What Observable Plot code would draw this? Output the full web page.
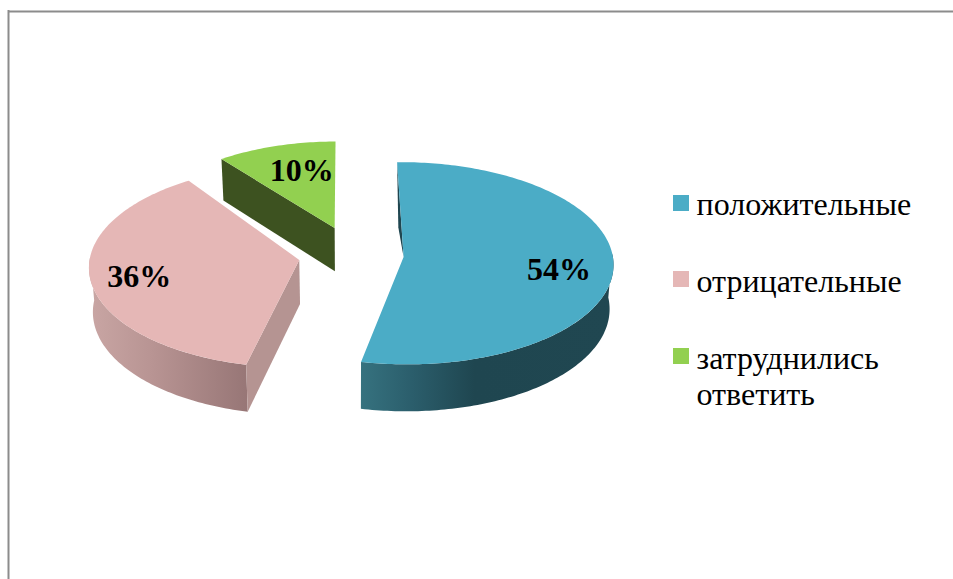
<!DOCTYPE html>
<html>
<head>
<meta charset="utf-8">
<script src="https://cdn.jsdelivr.net/npm/d3@7"></script>
<script src="https://cdn.jsdelivr.net/npm/@observablehq/plot@0.6"></script>
<style>
html,body{margin:0;padding:0;background:#fff;overflow:hidden}
svg{display:block}
</style>
</head>
<body>
<div id="chart"></div>
<script>
// Data
const categories = ["положительные", "отрицательные", "затруднились\nответить"];
const values = [54, 36, 10];
const topColors = ["#4BACC6", "#E5B7B6", "#92D050"];

// Pie projection: perspective view of an exploded disc
const view = {cx: 350.5, cy: 254, rx: 209, ry: 100.4, persp: 0.0615, depth: 44, floorScale: 0.985, start: -1.5};
// Small per-slice corrections for how the 3D view bends angles and distances
const sliceView = [
  {a0: 0.5, a1: -1, explode: 0.2525, radius: 1, dir: 0},
  {a0: 0, a1: 3, explode: 0.2525, radius: 1, dir: 0},
  {a0: -0.5, a1: 1.5, explode: 0.28, radius: 0.94, dir: 3}
];
const labelPlace = [{r: 0.745, turn: 4}, {r: 0.77, turn: 0}, {r: 0.63, turn: 0.9}];
const rad = (d) => d * Math.PI / 180;

let acc = view.start;
const slices = values.map((v, i) => {
  const nominal0 = acc, nominal1 = acc + v * 3.6;
  acc = nominal1;
  const t = sliceView[i];
  return {i, a0: nominal0 + t.a0, a1: nominal1 + t.a1, mid: (nominal0 + nominal1) / 2 + t.dir,
          explode: t.explode, radius: t.radius};
});
function pt(s, r, deg, depth = 0) {
  const u = s.explode * Math.sin(rad(s.mid)) + r * Math.sin(rad(deg));
  const w = -s.explode * Math.cos(rad(s.mid)) - r * Math.cos(rad(deg));
  const k = 1 / (1 - view.persp * w);
  const f = depth ? view.floorScale : 1;
  return {x: view.cx + view.rx * u * k * f, y: view.cy + (view.ry * w + depth) * k};
}
const arc = (s, a0, a1, depth = 0) => {
  const n = Math.max(2, Math.ceil(Math.abs(a1 - a0)));
  return d3.range(n + 1).map((j) => pt(s, s.radius, a0 + (a1 - a0) * j / n, depth));
};
const face = (points, fill) => Plot.line(points, {x: "x", y: "y", fill, stroke: "none", curve: "linear"});

function topFace(s) { return [pt(s, 0, s.a0), ...arc(s, s.a0, s.a1)]; }
function rimWall(s) {
  const a0 = Math.max(s.a0, 88), a1 = Math.min(s.a1, 272);
  return [...arc(s, a0, a1), ...arc(s, a1, a0, view.depth)];
}
function radialWall(s) {
  return [pt(s, 0, s.a0), pt(s, s.radius, s.a0), pt(s, s.radius, s.a0, view.depth), pt(s, 0, s.a0, view.depth)];
}
const [blue, pink, green] = slices;
const sliver = [pt(blue, 1, blue.a0), pt(blue, 0, blue.a0), pt(blue, 0.3, blue.a0 - 3)];

const labels = slices.map((s) => {
  const p = pt(s, labelPlace[s.i].r, s.mid + labelPlace[s.i].turn);
  return {...p, text: values[s.i] + "%"};
});

// Legend rows
const legendRows = [203, 280, 375];
const legendKeys = [195, 271, 348];
const legendData = categories.map((c, i) => ({
  name: c, y: legendRows[i], key: legendKeys[i], fill: topColors[i]
}));

function gradient(id, stops) {
  return `<linearGradient id="${id}" x1="0" x2="1" y1="0" y2="0">` +
    stops.map(([o, c]) => `<stop offset="${o}" stop-color="${c}"/>`).join("") + `</linearGradient>`;
}
const defs = () => {
  const g = d3.create("svg:defs");
  g.html(
    gradient("wallBlue", [[0, "#36727F"], [0.2, "#2B5E6C"], [0.45, "#1F4650"], [1, "#204751"]]) +
    gradient("wallPink", [[0, "#C9A6A4"], [0.4, "#B89493"], [1, "#977676"]])
  );
  return g.node();
};

const chart = Plot.plot({
  width: 953, height: 579,
  margin: 0,
  x: {domain: [0, 953], range: [0, 953], axis: null},
  y: {domain: [0, 579], range: [0, 579], axis: null},
  style: {fontFamily: "'Liberation Serif', serif", background: "#fff", color: "#000"},
  marks: [
    defs,
    Plot.ruleY([11], {x1: 8, x2: 953, stroke: "#8C8C8C", strokeWidth: 2}),
    Plot.ruleX([8], {y1: 10, y2: 579, stroke: "#8C8C8C", strokeWidth: 2}),
    face(radialWall(green), "#3D5220"),
    face(topFace(green), topColors[2]),
    face(rimWall(pink), "url(#wallPink)"),
    face(radialWall(pink), "#B59492"),
    face(topFace(pink), topColors[1]),
    face(sliver, "#1F4650"),
    face(rimWall(blue), "url(#wallBlue)"),
    face(topFace(blue), topColors[0]),
    Plot.text(labels, {x: "x", y: "y", text: "text", fontSize: 32, fontWeight: "bold", fill: "#000"}),
    Plot.rect(legendData, {x1: () => 673, x2: () => 689, y1: "key", y2: (d) => d.key + 16, fill: "fill"}),
    Plot.text(legendData, {x: () => 696, y: "y", text: "name", textAnchor: "start", fontSize: 32, lineHeight: 1.125, fill: "#000"})
  ]
});
document.getElementById("chart").appendChild(chart);
</script>
</body>
</html>
